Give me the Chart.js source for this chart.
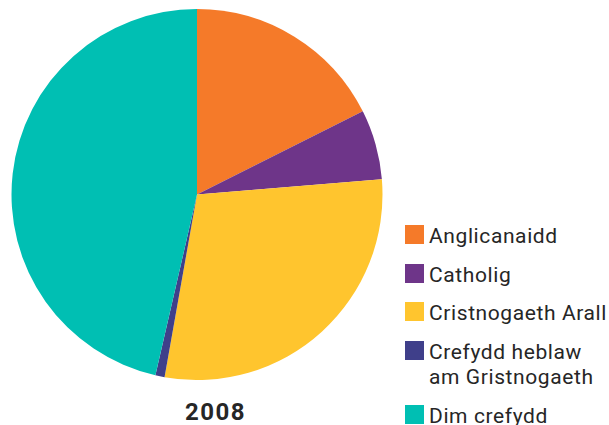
<!DOCTYPE html>
<html>
<head>
<meta charset="utf-8">
<script src="https://cdn.jsdelivr.net/npm/chart.js@4"></script>
<style>
  html, body { margin: 0; padding: 0; background: #fff; }
  body { width: 609px; height: 425px; position: relative; overflow: hidden; font-family: Roboto, sans-serif; color: #262626; }
  #pieBox { position: absolute; left: 11px; top: 9px; width: 372px; height: 371px; }
  #year { position: absolute; left: 185px; top: 398px; font-size: 24px; font-weight: bold; letter-spacing: 1.5px; }
  #legend { position: absolute; left: 405px; top: 225px; }
  .item { position: absolute; left: 0; white-space: nowrap; }
  .sw { position: absolute; left: 0; top: 0; width: 19px; height: 19px; }
  .lbl { position: absolute; left: 24px; top: -1px; font-size: 21px; line-height: 25px; letter-spacing: 0.6px; }
</style>
</head>
<body>
<div id="pieBox"><canvas id="pie"></canvas></div>
<div id="year"></div>
<div id="legend"></div>
<script>
// 2008 religion split (percent)
const CATEGORIES = ['Anglicanaidd', 'Catholig', 'Cristnogaeth Arall', 'Crefydd heblaw\nam Gristnogaeth', 'Dim crefydd'];
const VALUES = [17.6, 6.1, 29.1, 0.8, 46.4];
const COLOURS = ['#f57a29', '#6e3589', '#ffc52e', '#3f3f8a', '#00bfb3'];
const YEAR = '2008';

const LEGEND_TOPS = [0, 39, 77, 116, 180];

document.getElementById('year').textContent = YEAR;

const legend = document.getElementById('legend');
CATEGORIES.forEach((name, i) => {
    const item = document.createElement('div');
    item.className = 'item';
    item.style.top = LEGEND_TOPS[i] + 'px';
    const sw = document.createElement('div');
    sw.className = 'sw';
    sw.style.background = COLOURS[i];
    const lbl = document.createElement('div');
    lbl.className = 'lbl';
    lbl.innerHTML = name.split('\n').join('<br>');
    item.appendChild(sw);
    item.appendChild(lbl);
    legend.appendChild(item);
});

new Chart(document.getElementById('pie'), {
    type: 'pie',
    data: {
        labels: CATEGORIES,
        datasets: [{
            data: VALUES,
            backgroundColor: COLOURS,
            borderWidth: 0,
        }],
    },
    options: {
        responsive: true,
        maintainAspectRatio: false,
        animation: false,
        layout: { padding: 0 },
        plugins: {
            legend: { display: false },
            tooltip: { enabled: false },
        },
    },
});
</script>
</body>
</html>
